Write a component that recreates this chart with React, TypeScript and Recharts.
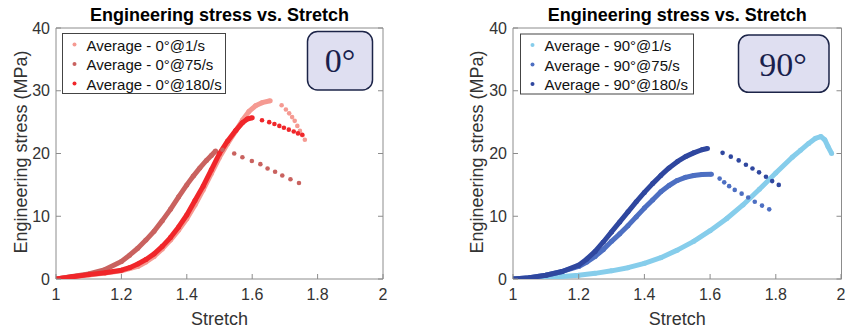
import { Scatter, ScatterChart, XAxis, YAxis } from "recharts";

type Pt = [number, number];

const xTicks = [1, 1.2, 1.4, 1.6, 1.8, 2];
const yTicks = [0, 10, 20, 30, 40];

const title = "Engineering stress vs. Stretch";
const xLabel = "Stretch";
const yLabel = "Engineering stress (MPa)";

// 0° — dense loading part, then sparse points after failure
const rise0_1: Pt[] = [[1.0, 0], [1.05, 0.35], [1.1, 0.65], [1.15, 0.95], [1.2, 1.3], [1.25, 2.0], [1.275, 2.7], [1.3, 3.6], [1.325, 4.8], [1.35, 6.2], [1.375, 7.8], [1.4, 9.6], [1.425, 11.8], [1.45, 14.2], [1.475, 16.8], [1.5, 19.4], [1.525, 21.6], [1.55, 23.6], [1.57, 25.3], [1.59, 26.7], [1.61, 27.6], [1.63, 28.1], [1.655, 28.4]];
const tail0_1: Pt[] = [[1.69, 27.7], [1.703, 27.0], [1.713, 26.4], [1.722, 25.8], [1.73, 25.2], [1.738, 24.4], [1.746, 23.6], [1.754, 22.9], [1.761, 22.2]];
const rise0_75: Pt[] = [[1.0, 0], [1.05, 0.4], [1.1, 0.8], [1.15, 1.5], [1.2, 2.8], [1.225, 3.8], [1.25, 4.9], [1.275, 6.2], [1.3, 7.6], [1.325, 9.3], [1.35, 11.1], [1.375, 13.1], [1.4, 15.0], [1.42, 16.4], [1.44, 17.7], [1.46, 18.9], [1.475, 19.7], [1.488, 20.4]];
const tail0_75: Pt[] = [[1.509, 20.6], [1.545, 20.0], [1.57, 19.4], [1.599, 18.8], [1.625, 18.3], [1.647, 17.6], [1.67, 17.1], [1.692, 16.5], [1.717, 15.9], [1.743, 15.3]];
const rise0_180: Pt[] = [[1.0, 0], [1.05, 0.35], [1.1, 0.7], [1.15, 1.0], [1.2, 1.4], [1.225, 1.8], [1.25, 2.4], [1.275, 3.1], [1.3, 4.0], [1.325, 5.2], [1.35, 6.6], [1.375, 8.3], [1.4, 10.2], [1.425, 12.5], [1.45, 14.8], [1.475, 17.4], [1.5, 20.0], [1.525, 22.0], [1.55, 23.7], [1.57, 24.9], [1.585, 25.5], [1.6, 25.7]];
const tail0_180: Pt[] = [[1.63, 25.3], [1.652, 25.0], [1.668, 24.7], [1.683, 24.4], [1.697, 24.1], [1.712, 23.8], [1.727, 23.5], [1.74, 23.2], [1.753, 23.0]];

// 90°
const rise90_1: Pt[] = [[1.0, 0], [1.05, 0.1], [1.1, 0.25], [1.15, 0.4], [1.2, 0.6], [1.25, 0.9], [1.3, 1.3], [1.35, 1.8], [1.4, 2.5], [1.45, 3.4], [1.5, 4.6], [1.55, 6.0], [1.6, 7.7], [1.65, 9.6], [1.7, 11.8], [1.75, 14.3], [1.8, 16.9], [1.85, 19.4], [1.875, 20.5], [1.9, 21.6], [1.92, 22.4], [1.937, 22.7], [1.949, 22.2], [1.959, 21.1], [1.97, 20.0]];
const tail90_1: Pt[] = [];
const rise90_75: Pt[] = [[1.0, 0], [1.05, 0.2], [1.1, 0.6], [1.15, 1.2], [1.2, 2.0], [1.225, 2.7], [1.25, 3.6], [1.275, 4.7], [1.3, 6.0], [1.325, 7.2], [1.35, 8.5], [1.375, 9.9], [1.4, 11.3], [1.425, 12.6], [1.45, 13.9], [1.475, 14.9], [1.5, 15.7], [1.525, 16.2], [1.55, 16.5], [1.575, 16.65], [1.604, 16.7]];
const tail90_75: Pt[] = [[1.629, 16.0], [1.643, 15.4], [1.658, 14.8], [1.675, 14.2], [1.696, 13.6], [1.716, 13.0], [1.736, 12.3], [1.758, 11.7], [1.78, 11.1]];
const rise90_180: Pt[] = [[1.0, 0], [1.05, 0.2], [1.1, 0.6], [1.15, 1.2], [1.2, 2.2], [1.225, 3.2], [1.25, 4.4], [1.275, 5.9], [1.3, 7.5], [1.325, 9.1], [1.35, 10.7], [1.375, 12.3], [1.4, 13.8], [1.425, 15.2], [1.45, 16.5], [1.475, 17.7], [1.5, 18.7], [1.525, 19.5], [1.55, 20.1], [1.575, 20.6], [1.592, 20.8]];
const tail90_180: Pt[] = [[1.638, 20.1], [1.663, 19.5], [1.687, 18.9], [1.709, 18.2], [1.729, 17.6], [1.749, 17.0], [1.77, 16.3], [1.789, 15.6], [1.809, 15.0]];

const FONT = "'Liberation Sans', Arial, sans-serif";
const AXIS = "#8c8c8c";
const TEXT = "#333";

type Series = { name: string; color: string; rise: Pt[]; tail: Pt[] };

const series0: Series[] = [
  { name: "Average - 0°@1/s", color: "#f59a92", rise: rise0_1, tail: tail0_1 },
  { name: "Average - 0°@75/s", color: "#c9625f", rise: rise0_75, tail: tail0_75 },
  { name: "Average - 0°@180/s", color: "#f0262a", rise: rise0_180, tail: tail0_180 },
];
const series90: Series[] = [
  { name: "Average - 90°@1/s", color: "#86cdeb", rise: rise90_1, tail: tail90_1 },
  { name: "Average - 90°@75/s", color: "#4d6fc2", rise: rise90_75, tail: tail90_75 },
  { name: "Average - 90°@180/s", color: "#2f479f", rise: rise90_180, tail: tail90_180 },
];

const toXY = (pts: Pt[]) => pts.map(([x, y]) => ({ x, y }));

const BottomTick = ({ x, y, payload }: any) => (
  <g>
    <line x1={x} x2={x} y1={y} y2={y - 5} stroke={AXIS} />
    <text x={x} y={y + 21} textAnchor="middle" fill={TEXT} fontSize={16} fontFamily={FONT}>
      {String(payload.value)}
    </text>
  </g>
);
const TopTick = ({ x, y }: any) => <line x1={x} x2={x} y1={y} y2={y + 5} stroke={AXIS} />;
const LeftTick = ({ x, y, payload }: any) => (
  <g>
    <line x1={x} x2={x + 5} y1={y} y2={y} stroke={AXIS} />
    <text x={x - 6} y={y + 5.5} textAnchor="end" fill={TEXT} fontSize={16} fontFamily={FONT}>
      {String(payload.value)}
    </text>
  </g>
);
const RightTick = ({ x, y }: any) => <line x1={x} x2={x - 5} y1={y} y2={y} stroke={AXIS} />;

interface PanelProps {
  left: number;
  width: number;
  plotLeft: number;
  plotRight: number;
  series: Series[];
  tag: string;
  legend: { x: number; y: number; w: number; h: number };
  box: { x: number; y: number; w: number; h: number; tx: number; ty: number };
  yLabelX: number;
}

function Panel({ left, width, plotLeft, plotRight, series, tag, legend, box, yLabelX }: PanelProps) {
  const cx = (plotLeft + plotRight) / 2;
  // plot area: y 28..279; axes take room inside the margins
  const margin = { top: 27, right: width - plotRight - 1, bottom: 23, left: plotLeft - 30 };
  return (
    <div style={{ position: "absolute", left, top: 0, width, height: 332 }}>
      <ScatterChart width={width} height={332} margin={margin}>
        <XAxis dataKey="x" type="number" domain={[1, 2]} ticks={xTicks} height={30} tickSize={0} tickMargin={0}
          tick={<BottomTick />} tickLine={false} axisLine={{ stroke: AXIS }} allowDataOverflow />
        <XAxis xAxisId="top" orientation="top" type="number" domain={[1, 2]} ticks={xTicks} height={1} tickSize={0}
          tickMargin={0} tick={<TopTick />} tickLine={false} axisLine={{ stroke: AXIS }} allowDataOverflow />
        <YAxis dataKey="y" type="number" domain={[0, 40]} ticks={yTicks} width={30} tickSize={0} tickMargin={0}
          tick={<LeftTick />} tickLine={false} axisLine={{ stroke: AXIS }} allowDataOverflow />
        <YAxis yAxisId="right" orientation="right" type="number" domain={[0, 40]} ticks={yTicks} width={1}
          tickSize={0} tickMargin={0} tick={<RightTick />} tickLine={false} axisLine={{ stroke: AXIS }} allowDataOverflow />
        {series.map((s) => (
          <Scatter key={s.name + "r"} data={toXY(s.rise)} isAnimationActive={false}
            line={{ stroke: s.color, strokeWidth: 5, strokeLinejoin: "round" }}
            shape={(p: any) => <circle cx={p.cx} cy={p.cy} r={2.5} fill={s.color} />} />
        ))}
        {series.map((s) => (
          <Scatter key={s.name + "t"} data={toXY(s.tail)} isAnimationActive={false}
            shape={(p: any) => <circle cx={p.cx} cy={p.cy} r={2.3} fill={s.color} />} />
        ))}
      </ScatterChart>
      <svg width={width} height={332} style={{ position: "absolute", left: 0, top: 0, pointerEvents: "none" }}>
        <text x={cx} y={21} textAnchor="middle" fontSize={18} fontWeight="bold" fontFamily={FONT} fill="#000">{title}</text>
        <text x={cx} y={325} textAnchor="middle" fontSize={18} fontFamily={FONT} fill={TEXT}>{xLabel}</text>
        <text transform={`translate(${yLabelX},152) rotate(-90)`} textAnchor="middle" fontSize={18} fontFamily={FONT} fill={TEXT}>{yLabel}</text>
        <rect x={legend.x} y={legend.y} width={legend.w} height={legend.h} fill="#fff" stroke="#444" />
        {series.map((s, i) => (
          <g key={s.name}>
            <circle cx={legend.x + 12} cy={legend.y + 11 + i * 19.5} r={2} fill={s.color} />
            <text x={legend.x + 24} y={legend.y + 17 + i * 19.5} fontSize={15} fontFamily={FONT} fill="#111">{s.name}</text>
          </g>
        ))}
        <rect x={box.x} y={box.y} width={box.w} height={box.h} rx={10} fill="#dfdff1" stroke="#1c2448" strokeWidth={1.5} />
        <text x={box.tx} y={box.ty} textAnchor="middle" fontSize={34} fontFamily="'Liberation Serif', 'DejaVu Serif', serif" fill="#1a1f4d">{tag}</text>
      </svg>
    </div>
  );
}

export default function App() {
  return (
    <div style={{ position: "absolute", left: 0, top: 0, width: 845, height: 332, background: "#fff", overflow: "hidden" }}>
      <Panel left={0} width={420} plotLeft={56} plotRight={383} series={series0} tag="0°"
        legend={{ x: 62.5, y: 33.5, w: 163, h: 60 }}
        box={{ x: 307.5, y: 31.5, w: 65, h: 58.5, tx: 340, ty: 72 }} yLabelX={27} />
      <Panel left={420} width={425} plotLeft={93} plotRight={421.5} series={series90} tag="90°"
        legend={{ x: 100.5, y: 34, w: 173, h: 60 }}
        box={{ x: 318.5, y: 35, w: 90.5, h: 57.3, tx: 363, ty: 76 }} yLabelX={63} />
    </div>
  );
}
